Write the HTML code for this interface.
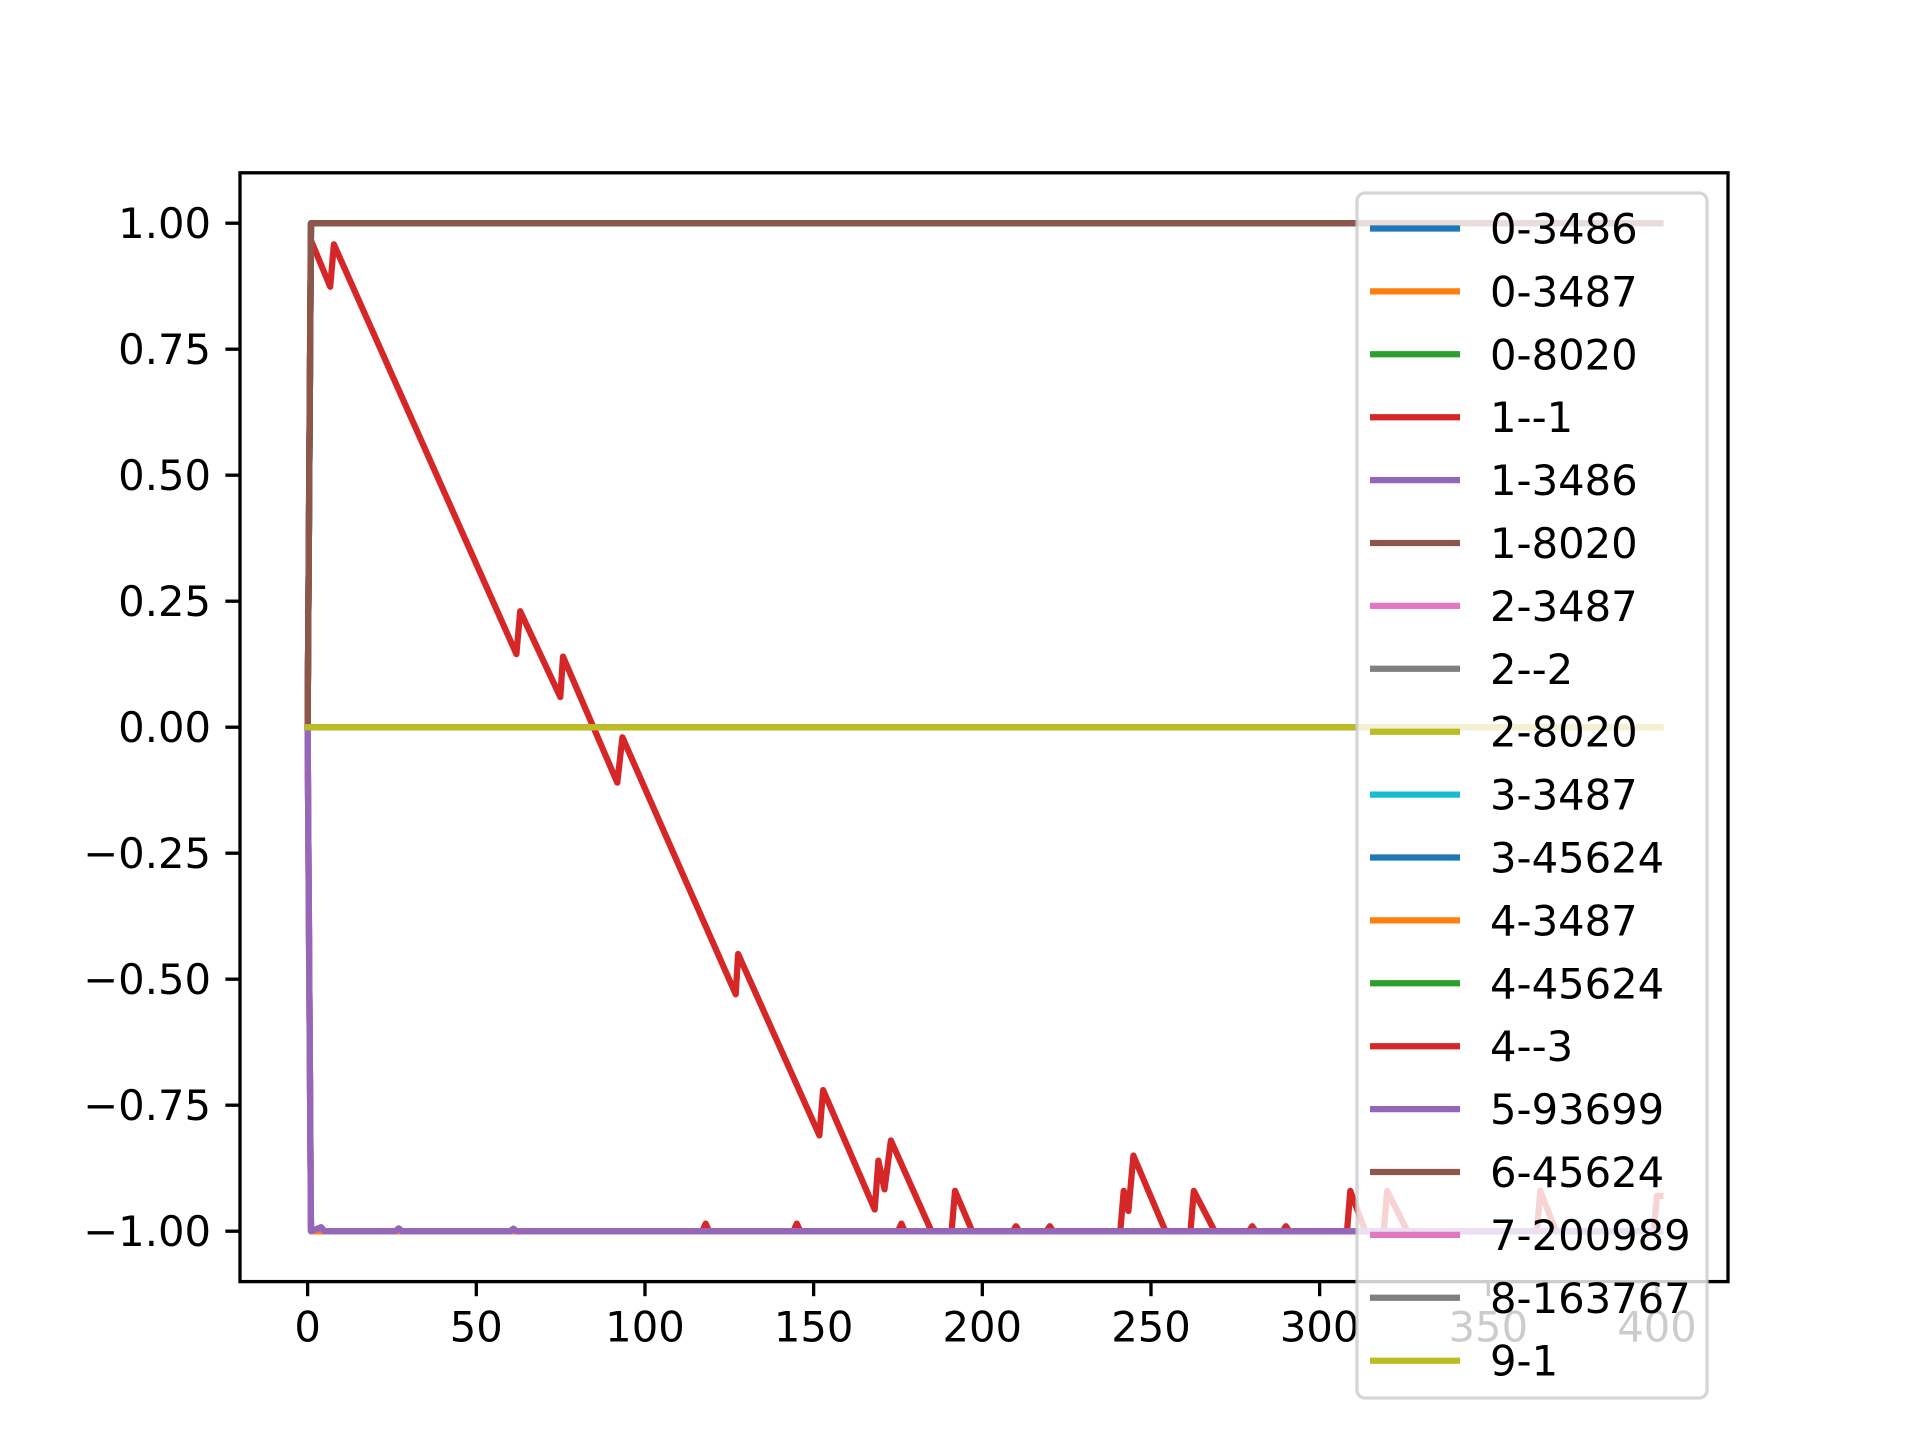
<!DOCTYPE html>
<html><head><meta charset="utf-8"><style>
html,body{margin:0;padding:0;background:#fff;}
svg{display:block;font-family:"DejaVu Sans","Liberation Sans",sans-serif;}
</style></head><body>
<svg id="chart" width="1920" height="1440" viewBox="0 0 1920 1440" xmlns="http://www.w3.org/2000/svg"></svg>
<script>
const xTicks = [0,50,100,150,200,250,300,350,400];
const yTicks = [-1.00,-0.75,-0.50,-0.25,0.00,0.25,0.50,0.75,1.00];
const yTickLabels = ["\u22121.00","\u22120.75","\u22120.50","\u22120.25","0.00","0.25","0.50","0.75","1.00"];
const seriesNames = ["0-3486","0-3487","0-8020","1--1","1-3486","1-8020","2-3487","2--2","2-8020","3-3487","3-45624","4-3487","4-45624","4--3","5-93699","6-45624","7-200989","8-163767","9-1"];
const seriesColors = ["#1f77b4","#ff7f0e","#2ca02c","#d62728","#9467bd","#8c564b","#e377c2","#7f7f7f","#bcbd22","#17becf","#1f77b4","#ff7f0e","#2ca02c","#d62728","#9467bd","#8c564b","#e377c2","#7f7f7f","#bcbd22"];
const upX = [0,1,401], upY = [0,1,1];
const downX = [0,1,401], downY = [0,-1,-1];
const zeroX = [0,401], zeroY = [0,0];
const redX = [0,0.9,6.7,7.8,61.9,63,74.9,75.7,91.8,93.3,126.9,127.6,151.7,152.8,168.1,169.2,171,172.9,184.9,190.9,191.9,197,209,210,211,219,220,221,240.9,241.9,243.3,244.8,254.3,261.7,262.7,268.9,279,280,281,289,290,291,308.1,309.1,313.5,319,320,326,364.4,365.4,370,399,400,401];
const redY = [0,0.967,0.874,0.958,0.145,0.23,0.06,0.14,-0.11,-0.02,-0.53,-0.45,-0.81,-0.72,-0.957,-0.86,-0.917,-0.82,-1,-1,-0.92,-1,-1,-0.99,-1,-1,-0.99,-1,-1,-0.92,-0.96,-0.85,-1,-1,-0.92,-1,-1,-0.99,-1,-1,-0.99,-1,-1,-0.92,-1,-1,-0.92,-1,-1,-0.92,-1,-1,-0.93,-0.93];
const bumpX = [0,1,117,118,119,144,145,146,175,176,177,401];
const bumpY = [0,-1,-1,-0.985,-1,-1,-0.985,-1,-1,-0.985,-1,-1];
const purpX = [0,1,4,5,6,26,27,28,60,61,62,401];
const purpY = [0,-1,-0.992,-1,-1,-1,-0.994,-1,-1,-0.995,-1,-1];
const seriesKind = ["up","up","up","down","down","up","down","zero","zero","up","up","down","up","red","purp","up","zero","zero","zero"];

const L=240,R=1728,T=172.8,B=1281.6;
const xmin=-20.05,xmax=421.05,ymin=-1.1,ymax=1.1;
const sx=v=>L+(v-xmin)/(xmax-xmin)*(R-L);
const sy=v=>B-(v-ymin)/(ymax-ymin)*(B-T);
const svg=document.getElementById('chart');
const NS='http://www.w3.org/2000/svg';
function mk(tag,attrs,parent){const e=document.createElementNS(NS,tag);for(const k in attrs)e.setAttribute(k,attrs[k]);(parent||svg).appendChild(e);return e;}

function sortPts(xs,ys){const p=xs.map((x,i)=>[x,ys[i]]);p.sort((a,b)=>a[0]-b[0]);return p;}
const plot=mk('g',{});


function drawLine(xs,ys,color,name){
  const pts=sortPts(xs,ys).map(p=>sx(p[0]).toFixed(1)+','+sy(p[1]).toFixed(1)).join(' ');
  const pl=mk('polyline',{points:pts,fill:'none',stroke:color,'stroke-width':6.25,'stroke-linejoin':'round','stroke-linecap':'square'},plot);
  
  
}
seriesNames.forEach((n,i)=>{
  const k=seriesKind[i];
  let xs,ys;
  if(n==='1--1'){xs=bumpX;ys=bumpY;}
  else if(k==='up'){xs=upX;ys=upY;}else if(k==='down'){xs=downX;ys=downY;}else if(k==='zero'){xs=zeroX;ys=zeroY;}else if(k==='red'){xs=redX;ys=redY;}else{xs=purpX;ys=purpY;}
  drawLine(xs,ys,seriesColors[i],n);
});
const frame=mk('rect',{x:L,y:T,width:R-L,height:B-T,fill:'none',stroke:'#000','stroke-width':3.33});


const xa=mk('g',{});


xTicks.forEach(v=>{
  const x=sx(v);
  mk('line',{x1:x,x2:x,y1:B,y2:B+14.6,stroke:'#000','stroke-width':3.33},xa);
  const t=mk('text',{x:x,y:B+60,'font-size':41.7,'text-anchor':'middle',fill:'#000'},xa);
  t.textContent=String(v);
  
  
});
const ya=mk('g',{});


yTicks.forEach((v,i)=>{
  const y=sy(v);
  mk('line',{x1:L-14.6,x2:L,y1:y,y2:y,stroke:'#000','stroke-width':3.33},ya);
  const t=mk('text',{x:L-29,y:y+15,'font-size':41.7,'text-anchor':'end',fill:'#000'},ya);
  t.textContent=yTickLabels[i];
  
  
});
const lg=mk('g',{});


mk('rect',{x:1357,y:193,width:350,height:1205,rx:8,fill:'#fff','fill-opacity':0.8,stroke:'#cccccc','stroke-opacity':0.8,'stroke-width':3.33},lg);
seriesNames.forEach((n,i)=>{
  const y=228.5+i*62.9;
  const e=mk('g',{},lg);
  
  
  mk('line',{x1:1370,x2:1460,y1:y,y2:y,stroke:seriesColors[i],'stroke-width':6.25},e);
  const t=mk('text',{x:1490,y:y+15,'font-size':41.7,fill:'#000'},e);
  t.textContent=n;
});
</script>
</body></html>
